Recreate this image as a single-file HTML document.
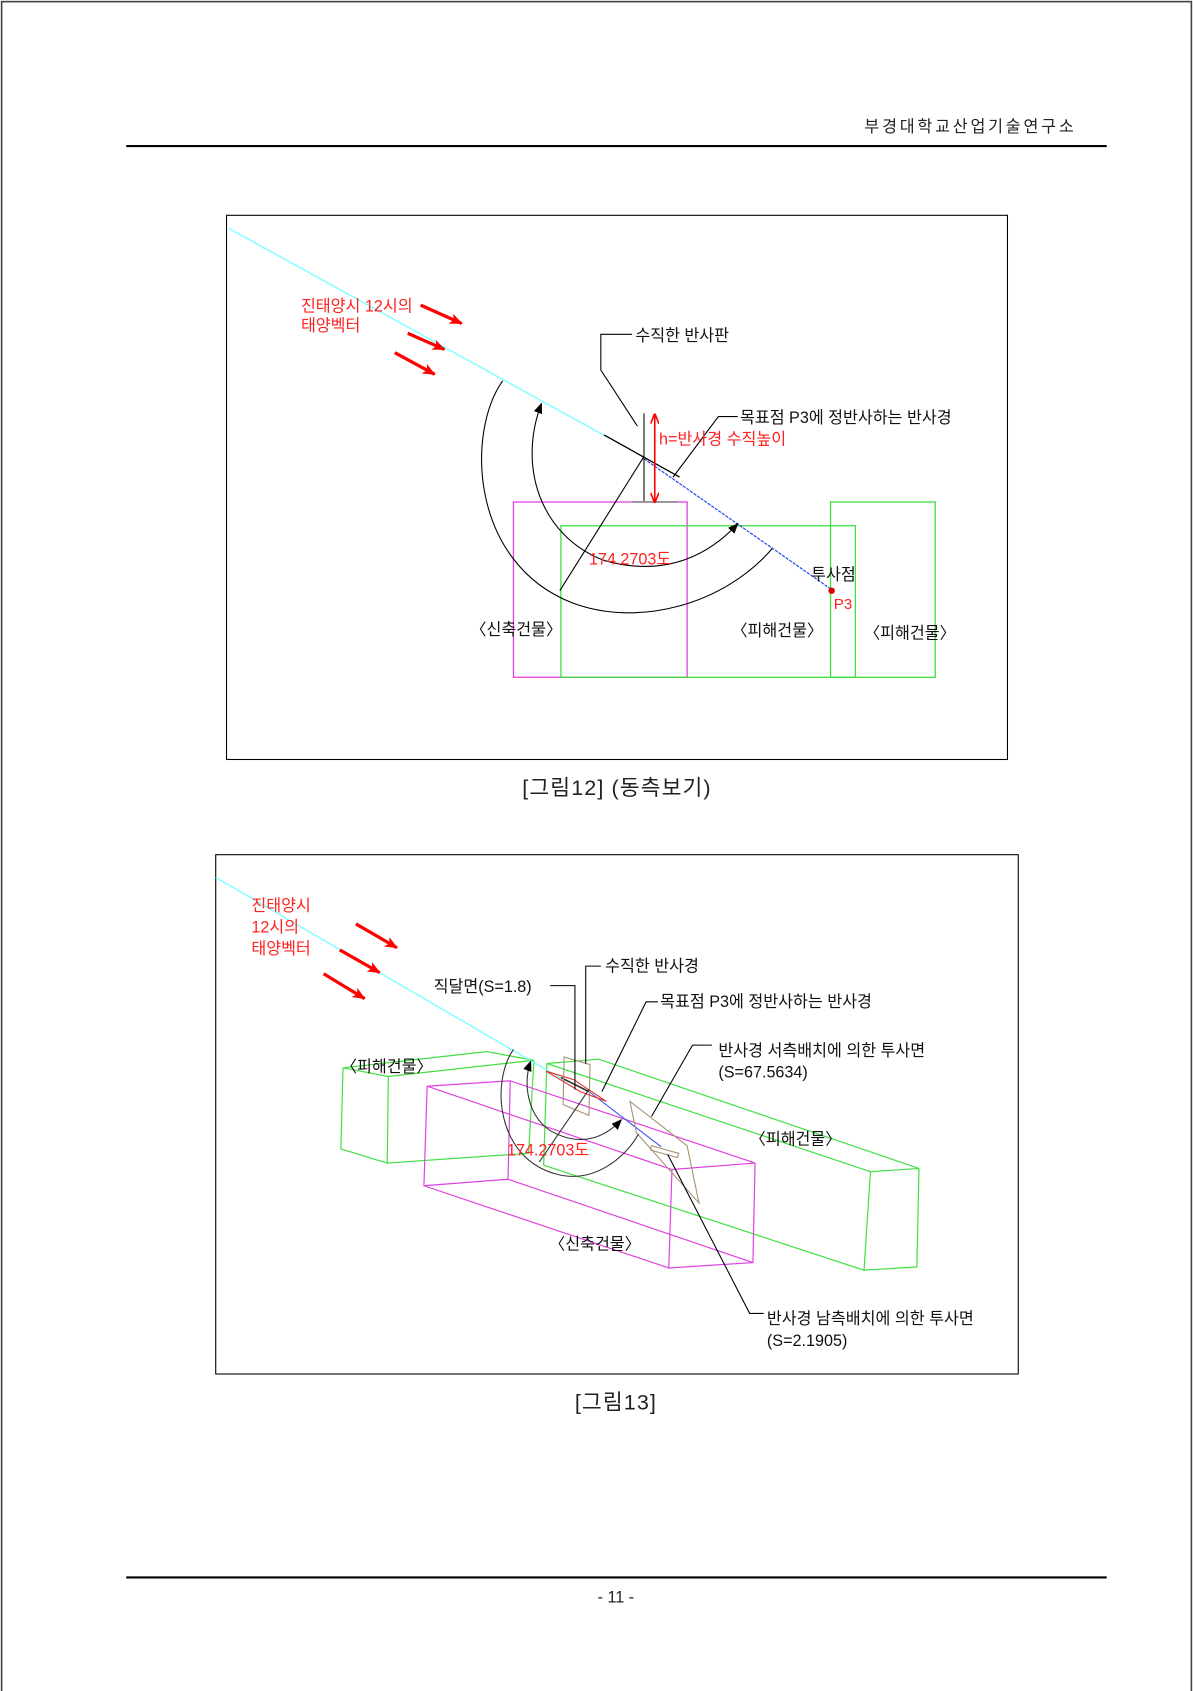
<!DOCTYPE html>
<html><head><meta charset="utf-8"><style>
html,body{margin:0;padding:0;background:#fff;}
svg{display:block;}
text{font-family:"Liberation Sans","Noto Sans CJK KR","NanumGothic",sans-serif;}
</style></head><body>
<svg width="1193" height="1691" viewBox="0 0 1106 1563" preserveAspectRatio="none" xmlns="http://www.w3.org/2000/svg">
<defs>
<marker id="ah" markerWidth="10" markerHeight="8" refX="9" refY="4" orient="auto" markerUnits="userSpaceOnUse"><path d="M0,0 L10,4 L0,8 z" fill="#000"/></marker>
<marker id="rh" markerWidth="12" markerHeight="10" refX="11" refY="5" orient="auto" markerUnits="userSpaceOnUse"><path d="M0,0 L12,5 L0,10 L3,5 z" fill="#f00"/></marker>
<marker id="rs" markerWidth="10" markerHeight="8" refX="9" refY="4" orient="auto-start-reverse" markerUnits="userSpaceOnUse"><path d="M0,0 L10,4 L0,8" fill="none" stroke="#f00" stroke-width="1.5"/></marker>
</defs>
<rect x="1.5" y="1.5" width="1103" height="1570" fill="none" stroke="#444" stroke-width="1.5"/>
<text x="998" y="122" font-size="15" text-anchor="end" fill="#222" letter-spacing="2.6">부경대학교산업기술연구소</text>
<line x1="117" y1="135" x2="1026" y2="135" stroke="#000" stroke-width="2"/>
<line x1="117" y1="1458" x2="1026" y2="1458" stroke="#000" stroke-width="2"/>
<text x="571" y="1481" font-size="15" text-anchor="middle" fill="#222">-  11  -</text>

<!-- ===== FIGURE 12 ===== -->
<rect x="210" y="199" width="724" height="503" fill="none" stroke="#000" stroke-width="1"/>
<rect x="476" y="464" width="161" height="162" fill="none" stroke="#e040e0" stroke-width="1.2"/>
<rect x="520" y="486" width="273" height="140" fill="none" stroke="#40e040" stroke-width="1.2"/>
<rect x="770" y="464" width="97" height="162" fill="none" stroke="#40e040" stroke-width="1.2"/>
<line x1="212" y1="211" x2="563" y2="404" stroke="#7ff" stroke-width="1.2"/>
<line x1="560" y1="402" x2="630" y2="441" stroke="#000" stroke-width="1.2"/>
<line x1="597" y1="424" x2="771" y2="545" stroke="#3355ee" stroke-width="1.2" stroke-dasharray="3,1"/>
<line x1="597" y1="382" x2="597" y2="464" stroke="#333" stroke-width="1.2"/>
<line x1="586" y1="464" x2="628" y2="464" stroke="#888" stroke-width="1.5"/>
<line x1="607" y1="383" x2="607" y2="464" stroke="#f00" stroke-width="1.5" marker-start="url(#rs)" marker-end="url(#rs)"/>
<path d="M466,352 C432,400 436,520 530,557 C590,580 670,560 716,507" fill="none" stroke="#000" stroke-width="1"/>
<path d="M560,518 C500,495 480,430 502,373" fill="none" stroke="#000" stroke-width="1" marker-end="url(#ah)"/>
<path d="M560,518 C620,535 660,510 684,484" fill="none" stroke="#000" stroke-width="1" marker-end="url(#ah)"/>
<line x1="519" y1="546" x2="597" y2="422" stroke="#000" stroke-width="1"/>
<line x1="390" y1="282" x2="428" y2="299" stroke="#f00" stroke-width="3" marker-end="url(#rh)"/>
<line x1="378" y1="308" x2="412" y2="323" stroke="#f00" stroke-width="3" marker-end="url(#rh)"/>
<line x1="366" y1="326" x2="403" y2="346" stroke="#f00" stroke-width="3" marker-end="url(#rh)"/>
<text x="279" y="288" font-size="15" fill="#f22">진태양시 12시의</text>
<text x="279" y="306" font-size="15" fill="#f22">태양벡터</text>
<polyline points="591,394 557,342 557,309 586,309" fill="none" stroke="#000" stroke-width="1"/>
<text x="589" y="315" font-size="15" fill="#111">수직한 반사판</text>
<polyline points="624,441 666,385 684,385" fill="none" stroke="#000" stroke-width="1"/>
<text x="686" y="391" font-size="15" fill="#111">목표점 P3에 정반사하는 반사경</text>
<text x="611" y="411" font-size="15" fill="#f22">h=반사경 수직높이</text>
<text x="546" y="522" font-size="15" fill="#f22">174.2703도</text>
<text x="752" y="536" font-size="15" fill="#111">투사점</text>
<circle cx="771" cy="546" r="3" fill="#d00"/>
<text x="773" y="563" font-size="14" fill="#f22">P3</text>
<text x="436" y="587" font-size="15" fill="#111">〈신축건물〉</text>
<text x="678" y="588" font-size="15" fill="#111">〈피해건물〉</text>
<text x="801" y="590" font-size="15" fill="#111">〈피해건물〉</text>
<text x="572" y="735" font-size="20" text-anchor="middle" fill="#222" letter-spacing="1">[그림12] (동측보기)</text>

<!-- ===== FIGURE 13 ===== -->
<rect x="200" y="790" width="744" height="480" fill="none" stroke="#000" stroke-width="1"/>
<g fill="none" stroke="#40e040" stroke-width="1.1">
<polygon points="318,987 451,972 495,980 360,995"/>
<polyline points="318,987 316,1062 359,1075 360,995"/>
<polyline points="359,1075 490,1066 495,980"/>
<polygon points="507,983 555,979 852,1080 807,1083"/>
<polyline points="507,983 504,1077 801,1174 807,1083"/>
<polyline points="801,1174 850,1171 852,1080"/>
</g>
<g fill="none" stroke="#e040e0" stroke-width="1.1">
<polygon points="396,1004 473,999 700,1075 623,1081"/>
<polyline points="396,1004 393,1096 620,1172 623,1081"/>
<polyline points="620,1172 698,1167 700,1075"/>
<polyline points="473,999 471,1090 698,1167"/>
<line x1="393" y1="1096" x2="471" y2="1090"/>
</g>
<line x1="200" y1="811" x2="526" y2="1000" stroke="#7ff" stroke-width="1.2"/>
<line x1="520" y1="996" x2="546" y2="1009" stroke="#333" stroke-width="1.5"/>
<line x1="546" y1="1009" x2="613" y2="1060" stroke="#3355ee" stroke-width="1"/>
<polygon points="523,977 547,984 546,1031 522,1021" fill="none" stroke="#a89070" stroke-width="1"/>
<polygon points="506,990 532,998 562,1018 538,1009" fill="none" stroke="#e03030" stroke-width="1"/>
<polygon points="584,1018 637,1059 648,1112 590,1047" fill="none" stroke="#a89070" stroke-width="1"/>
<polygon points="604,1059 629,1066 628,1070 603,1063" fill="none" stroke="#a89070" stroke-width="1"/>
<path d="M476,970 C455,1000 460,1070 515,1085 C550,1095 580,1070 592,1048" fill="none" stroke="#333" stroke-width="1"/>
<path d="M510,1045 C488,1030 485,1000 492,981" fill="none" stroke="#333" stroke-width="1" marker-end="url(#ah)"/>
<path d="M510,1045 C540,1062 562,1050 576,1035" fill="none" stroke="#333" stroke-width="1" marker-end="url(#ah)"/>
<line x1="500" y1="1074" x2="546" y2="1007" stroke="#333" stroke-width="1"/>
<line x1="330" y1="854" x2="368" y2="876" stroke="#f00" stroke-width="3" marker-end="url(#rh)"/>
<line x1="315" y1="878" x2="352" y2="899" stroke="#f00" stroke-width="3" marker-end="url(#rh)"/>
<line x1="300" y1="900" x2="338" y2="923" stroke="#f00" stroke-width="3" marker-end="url(#rh)"/>
<text x="233" y="842" font-size="15" fill="#f22">진태양시</text>
<text x="233" y="862" font-size="15" fill="#f22">12시의</text>
<text x="233" y="882" font-size="15" fill="#f22">태양벡터</text>
<polyline points="510,911 533,911 533,1007" fill="none" stroke="#000" stroke-width="1"/>
<text x="402" y="917" font-size="15" fill="#111">직달면(S=1.8)</text>
<polyline points="557,893 543,893 543,983" fill="none" stroke="#000" stroke-width="1"/>
<text x="561" y="898" font-size="15" fill="#111">수직한 반사경</text>
<polyline points="610,926 599,926 558,1009" fill="none" stroke="#000" stroke-width="1"/>
<text x="612" y="931" font-size="15" fill="#111">목표점 P3에 정반사하는 반사경</text>
<polyline points="660,966 642,966 604,1032" fill="none" stroke="#000" stroke-width="1"/>
<text x="666" y="976" font-size="15" fill="#111">반사경 서측배치에 의한 투사면</text>
<text x="666" y="996" font-size="15" fill="#111">(S=67.5634)</text>
<polyline points="619,1067 695,1214 708,1214" fill="none" stroke="#000" stroke-width="1"/>
<text x="711" y="1224" font-size="15" fill="#111">반사경 남측배치에 의한 투사면</text>
<text x="711" y="1244" font-size="15" fill="#111">(S=2.1905)</text>
<text x="470" y="1068" font-size="15" fill="#f22">174.2703도</text>
<text x="316" y="991" font-size="15" fill="#111">〈피해건물〉</text>
<text x="695" y="1058" font-size="15" fill="#111">〈피해건물〉</text>
<text x="509" y="1155" font-size="15" fill="#111">〈신축건물〉</text>
<text x="571" y="1303" font-size="20" text-anchor="middle" fill="#222" letter-spacing="1">[그림13]</text>
</svg>
</body></html>
